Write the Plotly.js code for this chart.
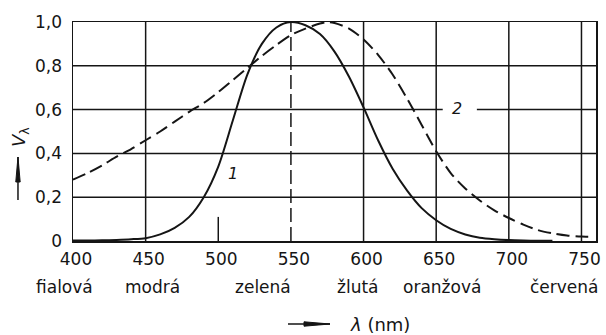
<!DOCTYPE html>
<html>
<head>
<meta charset="utf-8">
<script src="https://cdn.plot.ly/plotly-3.0.1.min.js"></script>
<style>html,body{margin:0;padding:0;background:#fff;}#chart{width:606px;height:335px;}</style>
</head>
<body>
<div id="chart"></div>
<script>
// ---- data ----
const lambda1 = [400,410,420,430,440,450,460,470,480,490,500,510,520,530,540,550,560,570,580,590,600,610,620,630,640,650,660,670,680,690,700,710,720,730];
const curve1  = [0.002,0.002,0.003,0.005,0.008,0.013,0.03,0.06,0.11,0.2,0.34,0.55,0.76,0.9,0.975,1.0,0.985,0.945,0.865,0.75,0.61,0.46,0.33,0.23,0.15,0.095,0.055,0.03,0.015,0.008,0.004,0.002,0.001,0.001];
const lambda2 = [400,410,420,430,440,450,460,470,480,490,500,510,520,530,540,550,560,570,575,580,590,600,610,620,630,640,650,660,670,680,690,700,710,720,730,740,750,758];
const curve2  = [0.28,0.31,0.345,0.385,0.42,0.46,0.5,0.545,0.59,0.63,0.68,0.735,0.79,0.845,0.895,0.94,0.97,0.993,1.0,0.995,0.97,0.92,0.85,0.76,0.65,0.53,0.41,0.31,0.24,0.185,0.14,0.105,0.075,0.05,0.035,0.025,0.02,0.02];
const xTickVals = [400,450,500,550,600,650,700,750];
const xTickText = ["400","450","500","550","600","650","700","750"];
const yTickVals = [0,0.2,0.4,0.6,0.8,1.0];
const yTickText = ["0","0,2","0,4","0,6","0,8","1,0"];
const colorNames = ["fialová","modrá","zelená","žlutá","oranžová","červená"];
const colorNameAt = [394,455,531,596,654,738];
const curveLabels = ["1","2"];
const curveLabelAt = [[510,0.31],[664,0.607]];

const X_RANGE = [400, 760];
const INK = "#151515";
const FONT = "DejaVu Sans, sans-serif";

const traces = [
  {x: lambda1, y: curve1, mode: "lines", line: {color: INK, width: 2, shape: "spline", smoothing: 0.8}, hoverinfo: "skip"},
  {x: lambda2, y: curve2, mode: "lines", line: {color: INK, width: 2, dash: "13px,6px", shape: "spline", smoothing: 0.8}, hoverinfo: "skip"}
];

const shapes = [];
function hline(y, x0, x1) { shapes.push({type: "line", xref: "x", yref: "y", x0: x0, x1: x1, y0: y, y1: y, line: {color: INK, width: 1.5}, layer: "below"}); }
function vline(x, y0, y1, dash) { shapes.push({type: "line", xref: "x", yref: "y", x0: x, x1: x, y0: y0, y1: y1, line: {color: INK, width: 1.5, dash: dash || "solid"}, layer: "below"}); }
hline(0.2, 400, 760); hline(0.4, 400, 760); hline(0.8, 400, 760);
hline(0.6, 400, 654.5); hline(0.6, 678, 760);
vline(450, 0, 1); vline(600, 0, 1); vline(650, 0, 1); vline(700, 0, 1); vline(750, 0, 1);
vline(550, 0, 1, "14px,5px");
vline(500, 0, 0.11);

// axis-title arrows (pixel-sized shapes anchored in paper coordinates)
function arrowShapes(ax, ay, path, head) {
  shapes.push({type: "path", xref: "paper", yref: "paper", xsizemode: "pixel", ysizemode: "pixel",
    xanchor: ax, yanchor: ay, path: path, line: {color: INK, width: 1.5}});
  shapes.push({type: "path", xref: "paper", yref: "paper", xsizemode: "pixel", ysizemode: "pixel",
    xanchor: ax, yanchor: ay, path: head, fillcolor: INK, line: {color: INK, width: 1}});
}
arrowShapes(0.4111, -0.379, "M0,0 L42,0", "M16,-2.2 L42,0 L16,2.2 Z");
arrowShapes(-0.1052, 0.1872, "M0,0 L0,43", "M-2.2,18 L0,43 L2.2,18 Z");

const annotations = [];
colorNames.forEach((n, i) => annotations.push({
  x: (colorNameAt[i] - X_RANGE[0]) / (X_RANGE[1] - X_RANGE[0]), xref: "paper", y: -0.212, yref: "paper", text: n, showarrow: false,
  font: {family: FONT, size: 17, color: INK}, xanchor: "center", yanchor: "middle"
}));
curveLabels.forEach((t, i) => annotations.push({
  x: curveLabelAt[i][0], y: curveLabelAt[i][1], xref: "x", yref: "y", text: "<i>" + t + "</i>", showarrow: false,
  font: {family: FONT, size: 16, color: INK}, xanchor: "center", yanchor: "middle"
}));
annotations.push({x: 0.5258, y: -0.379, xref: "paper", yref: "paper", text: "<i>λ</i> (nm)", showarrow: false,
  font: {family: FONT, size: 18, color: INK}, xanchor: "left", yanchor: "middle"});
annotations.push({x: -0.1013, y: 0.475, xref: "paper", yref: "paper", text: "<i>V</i><sub>λ</sub>", showarrow: false,
  textangle: -90, font: {family: FONT, size: 18, color: INK}, xanchor: "center", yanchor: "middle"});

const layout = {
  width: 606, height: 335,
  margin: {l: 73, r: 10, t: 22, b: 94, pad: 0},
  paper_bgcolor: "#fff", plot_bgcolor: "#fff",
  showlegend: false,
  xaxis: {range: X_RANGE, tickvals: xTickVals, ticktext: xTickText, showgrid: false, zeroline: false,
    showline: true, mirror: true, linecolor: INK, linewidth: 1.5, ticks: "", ticklabelstandoff: 2, ticklabelshift: 3,
    tickfont: {family: FONT, size: 17, color: INK}, fixedrange: true},
  yaxis: {range: [0, 1], tickvals: yTickVals, ticktext: yTickText, showgrid: false, zeroline: false,
    showline: true, mirror: true, linecolor: INK, linewidth: 1.5, ticks: "", ticklabelstandoff: 6,
    tickfont: {family: FONT, size: 17, color: INK}, fixedrange: true},
  shapes: shapes,
  annotations: annotations
};

Plotly.newPlot("chart", traces, layout, {displayModeBar: false, staticPlot: true});
</script>
</body>
</html>
